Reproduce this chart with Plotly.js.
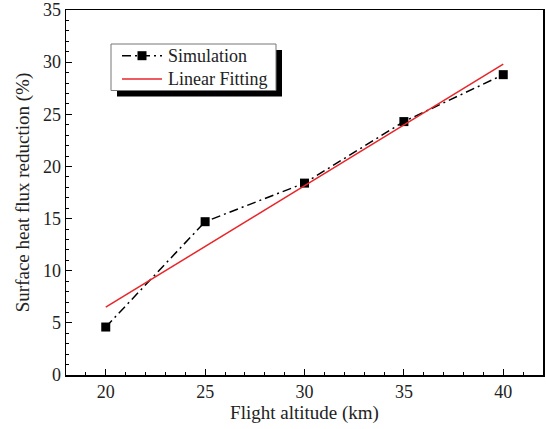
<!DOCTYPE html>
<html>
<head>
<meta charset="utf-8">
<script src="https://cdn.plot.ly/plotly-3.0.1.min.js"></script>
<style>
  html, body { margin: 0; padding: 0; background: #fff; }
  #chart { width: 546px; height: 429px; }
</style>
</head>
<body>
<div id="chart"></div>
<script>
// Flight altitude (km) and simulated surface heat flux reduction (%)
const altitude = [20, 25, 30, 35, 40];
const reduction = [4.6, 14.7, 18.4, 24.3, 28.8];

// Linear fitting line, end points
const fitAltitude = [20, 40];
const fitReduction = [6.5, 29.8];

const seriesNames = ['Simulation', 'Linear Fitting'];

const serif = '"Liberation Serif", "Times New Roman", serif';
const W = 546, H = 429;
const M = { l: 66, r: 3, t: 10, b: 54 };
const plotW = W - M.l - M.r, plotH = H - M.t - M.b;
// pixel position on the page -> paper fraction
const px = x => (x - M.l) / plotW;
const py = y => (H - M.b - y) / plotH;

const simLine = { color: '#000', width: 1.5, dash: '9px,4px,2px,4px' };
const fitLine = { color: '#e8262a', width: 1.5 };

const traces = [
  {
    x: altitude, y: reduction, name: seriesNames[0],
    type: 'scatter', mode: 'lines+markers',
    line: simLine,
    marker: { symbol: 'square', size: 9, color: '#000' }
  },
  {
    x: fitAltitude, y: fitReduction, name: seriesNames[1],
    type: 'scatter', mode: 'lines',
    line: fitLine
  }
];

const axisCommon = {
  showgrid: false, zeroline: false,
  showline: true, linecolor: '#000', linewidth: 1.5, mirror: true,
  ticks: 'inside', ticklen: 6, tickwidth: 1.2, tickcolor: '#000',
  tickfont: { family: serif, size: 18, color: '#222' },
  minor: { ticks: 'inside', ticklen: 3, tickwidth: 1, tickcolor: '#000', dtick: 1, showgrid: false }
};

// Boxed legend with a drop shadow
const box = { x0: 111, x1: 276, y0: 44, y1: 90.5 };
const shadow = 6;
const rows = [55.7, 79];
const sampleX = [122, 162];
const shapes = [
  { type: 'rect', xref: 'paper', yref: 'paper', layer: 'above',
    x0: px(box.x0 + shadow), x1: px(box.x1 + shadow), y0: py(box.y1 + shadow), y1: py(box.y0 + shadow),
    fillcolor: '#000', line: { width: 0 } },
  { type: 'rect', xref: 'paper', yref: 'paper', layer: 'above',
    x0: px(box.x0), x1: px(box.x1), y0: py(box.y1), y1: py(box.y0),
    fillcolor: '#fff', line: { color: '#777', width: 1 } },
  { type: 'line', xref: 'paper', yref: 'paper', layer: 'above',
    x0: px(sampleX[0]), x1: px(sampleX[1]), y0: py(rows[0]), y1: py(rows[0]), line: simLine },
  { type: 'rect', xref: 'paper', yref: 'paper', layer: 'above',
    x0: px(142 - 4.5), x1: px(142 + 4.5), y0: py(rows[0] + 4.5), y1: py(rows[0] - 4.5),
    fillcolor: '#000', line: { width: 0 } },
  { type: 'line', xref: 'paper', yref: 'paper', layer: 'above',
    x0: px(sampleX[0]), x1: px(sampleX[1]), y0: py(rows[1]), y1: py(rows[1]), line: fitLine }
];
const annotations = seriesNames.map((name, i) => ({
  xref: 'paper', yref: 'paper', x: px(166), y: py(rows[i]),
  xanchor: 'left', yanchor: 'middle', showarrow: false,
  text: name, font: { family: serif, size: 18, color: '#222' }
}));

const layout = {
  width: W, height: H,
  margin: M,
  paper_bgcolor: '#fff', plot_bgcolor: '#fff',
  font: { family: serif, color: '#222' },
  showlegend: false,
  xaxis: Object.assign({}, axisCommon, {
    range: [18, 42], tickvals: [20, 25, 30, 35, 40],
    title: { text: 'Flight altitude (km)', font: { family: serif, size: 19, color: '#222' }, standoff: 4 }
  }),
  yaxis: Object.assign({}, axisCommon, {
    range: [0, 35], dtick: 5,
    title: { text: 'Surface heat flux reduction (%)', font: { family: serif, size: 19, color: '#222' }, standoff: 8 }
  }),
  shapes: shapes,
  annotations: annotations
};

Plotly.newPlot('chart', traces, layout, { displayModeBar: false, staticPlot: true });
</script>
</body>
</html>
